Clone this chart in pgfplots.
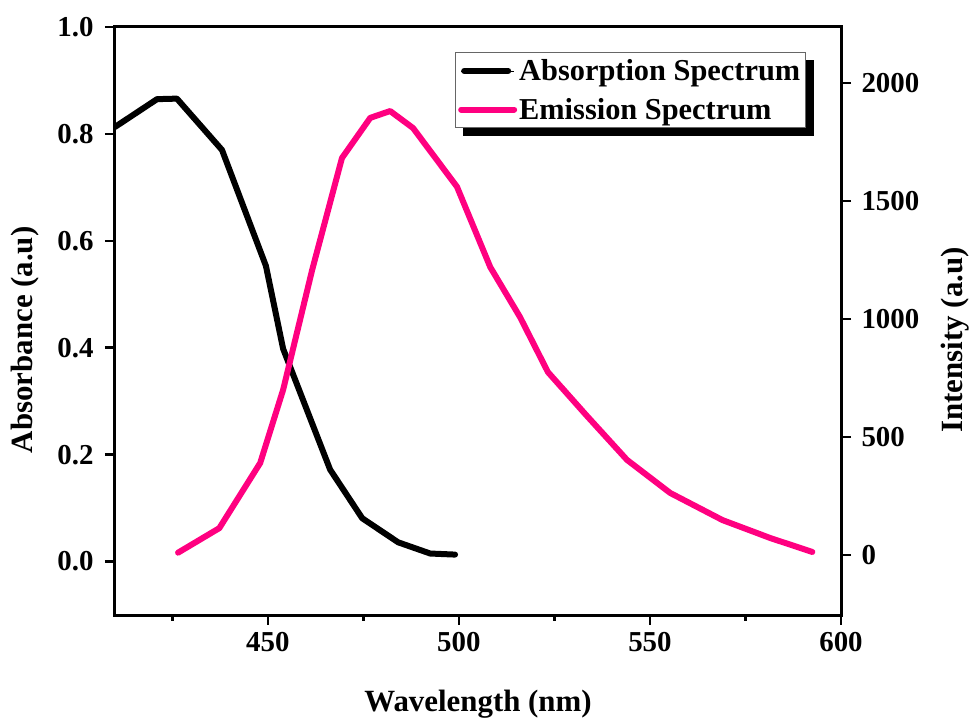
\documentclass[border=0pt]{standalone}
\usepackage{fontspec}
\setmainfont{Liberation Serif}
\usepackage{pgfplots}
\pgfplotsset{compat=1.18}
\definecolor{empink}{RGB}{255,0,128}

\begin{document}
\begin{tikzpicture}
\useasboundingbox (-115bp,-103bp) rectangle (855bp,615bp);
\pgfplotsset{
  common/.style={
    scale only axis, width=726bp, height=588bp,
    xmin=410, xmax=600,
    axis line style={line width=3bp},
    tick align=outside,
    major tick length=10bp, minor tick length=6bp,
    every tick/.style={line width=2.5bp, black},
    tick label style={font=\fontsize{29}{29}\selectfont\bfseries},
    /pgf/number format/assume math mode=true,
    /pgf/number format/1000 sep={},
    label style={font=\fontsize{31}{31}\selectfont\bfseries},
  }
}
\begin{axis}[common,
  ymin=-0.1, ymax=1.0,
  xtick={450,500,550,600}, minor xtick={425,475,525,575},
  ytick={0,0.2,0.4,0.6,0.8,1.0},
  xtick pos=bottom, ytick pos=left,
  yticklabel style={xshift=-8bp, /pgf/number format/.cd, fixed, fixed zerofill, precision=1},
  xticklabel style={yshift=-4bp},
  xlabel={Wavelength (nm)},
  ylabel={Absorbance (a.u)},
  xlabel style={at={(axis description cs:0.5,-0.1633)}, anchor=base},
  ylabel style={at={(axis description cs:-0.1143,0.468)}, anchor=base},
]
\addplot[black, line width=6bp, line cap=round, line join=round] coordinates {
(410,0.813) (421,0.865) (426.2,0.866) (438,0.77) (449.5,0.553) (454,0.398)
(466.3,0.172) (474.7,0.081) (484.1,0.036) (492.5,0.015) (499,0.013)
};
\end{axis}
\begin{axis}[common,
  ymin=-254, ymax=2237,
  axis x line=none, axis y line*=right,
  ytick={0,500,1000,1500,2000},
  yticklabel style={xshift=7bp},
  ylabel={Intensity (a.u)},
  ylabel style={at={(axis description cs:1.1667,0.468)}, anchor=base},
  legend style={at={(axis description cs:0.468,0.957)}, anchor=north west,
    name=leg, draw=black!60, line width=0.8bp, fill=white,
    inner ysep=5bp, inner xsep=3bp,
    font=\fontsize{30.5}{30.5}\selectfont\bfseries, row sep=12bp},
  legend cell align=left,
  legend image code/.code={%
    \path (-3bp,0bp) -- (50bp,0bp);
    \draw[#1, line width=6bp, line cap=round] (0bp,0bp) -- (44bp,0bp);},
]
\addlegendimage{black}
\addlegendentry{Absorption Spectrum}
\addplot[empink, line width=6bp, line cap=round, line join=round] coordinates {
(426.5,10) (437.3,114) (448,390) (454,700) (461.6,1208) (469.4,1682)
(476.8,1852) (482,1881) (488,1809) (499.5,1560) (508.2,1220) (516,1008)
(523.3,775) (533.3,593) (544,403) (555.3,263) (569,148) (581.5,72) (592.5,13)
};
\addlegendentry{Emission Spectrum}
\end{axis}
\fill[black] ([xshift=8bp]leg.south west) rectangle ([xshift=8bp,yshift=-8bp]leg.south east);
\fill[black] ([yshift=-8bp]leg.north east) rectangle ([xshift=8bp]leg.south east);
\end{tikzpicture}
\end{document}
